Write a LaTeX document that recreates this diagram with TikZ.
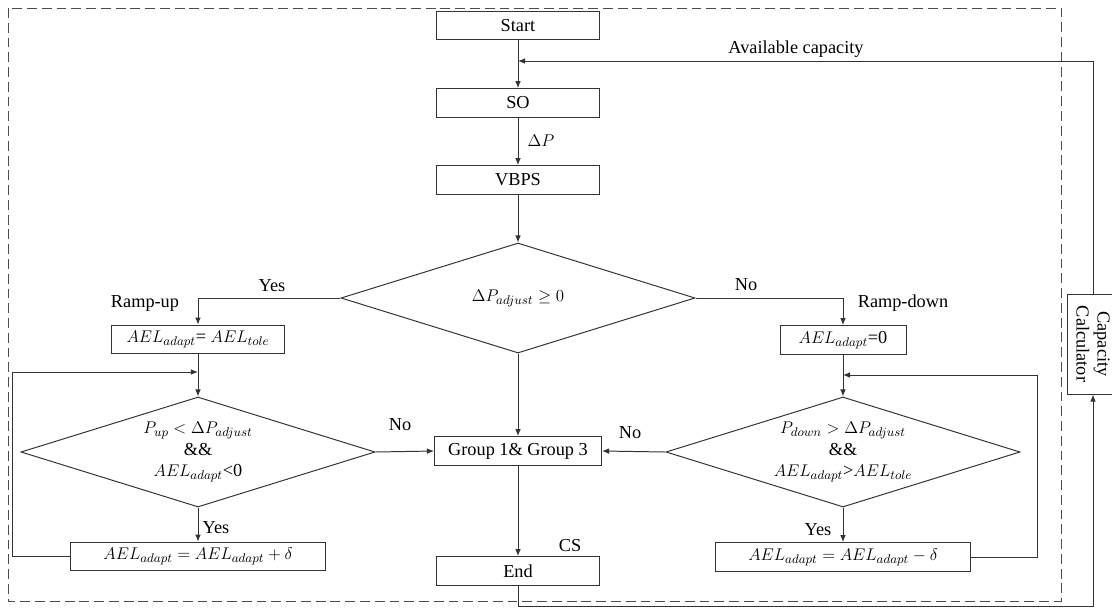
\documentclass[tikz,border=0pt]{standalone}
\usepackage{amsmath}
\usepackage{amssymb}
\usepackage{fontspec}
\setmainfont{Liberation Serif}
\usepackage{tikz}
\usetikzlibrary{shapes, arrows.meta}

\begin{document}
\begin{tikzpicture}[x=0.025cm, y=-0.025cm, >={Latex[length=5pt,width=4pt]}, line width=0.7pt, draw=black!80, font=\fontsize{13}{15}\selectfont]
  % Set the node styles
  \tikzset{flowbox/.style={rectangle, draw=black!80, inner sep=2pt, minimum height=0.72cm},
           decision/.style={diamond, draw=black!80, aspect=3.2, inner sep=0pt, align=center,
                            minimum width=8.85cm, minimum height=2.75cm},
           tag/.style={inner sep=1pt}}
  \useasboundingbox (0,0) rectangle (1112,607);

  % Outer dashed frame
  \draw[black!70, dash pattern=on 7pt off 3.5pt] (8,8) rectangle (1061,601);

  % Main column
  \node[flowbox, minimum width=4.05cm] (start) at (518,25.5) {Start};
  \node[flowbox, minimum width=4.05cm] (so) at (518,103) {SO};
  \node[flowbox, minimum width=4.05cm] (vbps) at (518,180) {VBPS};
  \node[decision] (check) at (518,298) {$\Delta P_{adjust}\geq 0$};
  \node[flowbox, minimum width=4.175cm] (group) at (518,451) {Group 1\& Group 3};
  \node[flowbox, minimum width=4.05cm] (end) at (518,571) {End};

  % Ramp-up branch
  \node[flowbox, minimum width=4.3cm] (upset) at (198,339.5) {$AEL_{adapt}$= $AEL_{tole}$};
  \node[decision] (upcheck) at (198,452) {$P_{up}<\Delta P_{adjust}$\\\&\&\\$AEL_{adapt}$<0};
  \node[flowbox, minimum width=6.35cm] (upstep) at (198,556.5) {$AEL_{adapt}=AEL_{adapt}+\delta$};

  % Ramp-down branch
  \node[flowbox, minimum width=3.15cm] (downset) at (843,340) {$AEL_{adapt}$=0};
  \node[decision] (downcheck) at (843,452) {$P_{down}>\Delta P_{adjust}$\\\&\&\\$AEL_{adapt}$>$AEL_{tole}$};
  \node[flowbox, minimum width=6.375cm] (downstep) at (843,557) {$AEL_{adapt}=AEL_{adapt}-\delta$};

  % Capacity calculator
  \node[flowbox, rotate=-90, align=center, minimum width=2.5cm, minimum height=1.3cm] (calc) at (1093,344) {Capacity\\Calculator};

  % Helper points
  \coordinate (avail) at (518,61);
  \coordinate (upjoin) at (198,372);
  \coordinate (uploop) at (12,372);
  \coordinate (downjoin) at (843,375);
  \coordinate (downloop) at (1037,375);
  \coordinate (calcbot) at (1093,606);

  % Connect the nodes
  \draw[->] (start) -- (so);
  \draw[->] (calc.west) |- (avail);
  \draw[->] (so) -- (vbps);
  \draw[->] (vbps) -- (check);
  \draw[->] (check.west) -| (upset.north);
  \draw[->] (check.east) -| (downset.north);
  \draw[->] (check.south) -- (group.north);
  \draw[->] (upset) -- (upcheck.north);
  \draw[->] (upcheck.south) -- (upstep.north);
  \draw[->] (upstep.west) -| (uploop) -- (upjoin);
  \draw[->] (upcheck.east) -- (group.west);
  \draw[->] (downset) -- (downcheck.north);
  \draw[->] (downcheck.south) -- (downstep.north);
  \draw[->] (downstep.east) -| (downloop) -- (downjoin);
  \draw[->] (downcheck.west) -- (group.east);
  \draw[->] (group) -- (end);
  \draw[->] (end.south) |- (calcbot) -- (calc.east);

  % Labels
  \node[tag] (availtxt) at (796,49) {Available capacity};
  \node[tag] (dptxt) at (541,141) {$\Delta P$};
  \node[tag] (yesup) at (272,286) {Yes};
  \node[tag] (nodown) at (746,285) {No};
  \node[tag] (uptxt) at (145,303) {Ramp-up};
  \node[tag] (downtxt) at (903,303) {Ramp-down};
  \node[tag] (noleft) at (400,425) {No};
  \node[tag] (noright) at (630,433) {No};
  \node[tag] (yesleft) at (216,528) {Yes};
  \node[tag] (yesright) at (818,530) {Yes};
  \node[tag] (cstxt) at (570,546) {CS};
\end{tikzpicture}
\end{document}
